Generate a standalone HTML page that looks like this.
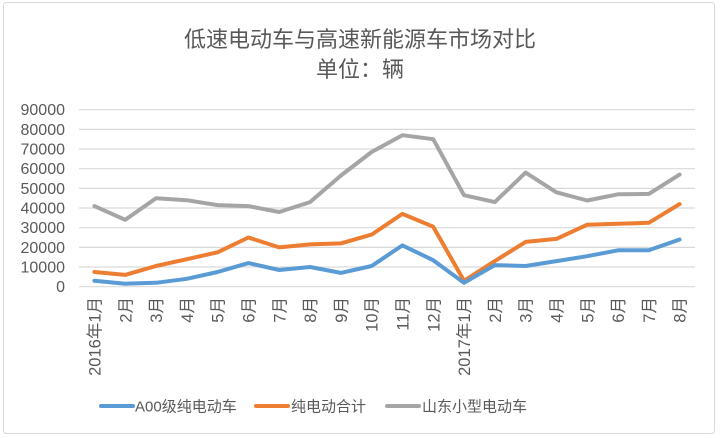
<!DOCTYPE html>
<html><head><meta charset="utf-8"><style>
html,body{margin:0;padding:0;background:#fff;}
svg{display:block;font-family:"Liberation Sans","Noto Sans CJK SC",sans-serif;}
</style></head><body>
<svg width="720" height="438" viewBox="0 0 720 438" xmlns="http://www.w3.org/2000/svg">
<rect x="3.5" y="2.5" width="711" height="431" rx="3" fill="#fff" stroke="#d9d9d9" stroke-width="1"/>
<g fill="#595959" text-anchor="middle" font-size="22">
<text x="360" y="47">低速电动车与高速新能源车市场对比</text>
<text x="360" y="77">单位：辆</text>
</g>
<g stroke="#d9d9d9" stroke-width="1.2">
<line x1="79" x2="695" y1="286.7" y2="286.7"/>
<line x1="79" x2="695" y1="267.0" y2="267.0"/>
<line x1="79" x2="695" y1="247.4" y2="247.4"/>
<line x1="79" x2="695" y1="227.7" y2="227.7"/>
<line x1="79" x2="695" y1="208.0" y2="208.0"/>
<line x1="79" x2="695" y1="188.4" y2="188.4"/>
<line x1="79" x2="695" y1="168.7" y2="168.7"/>
<line x1="79" x2="695" y1="149.0" y2="149.0"/>
<line x1="79" x2="695" y1="129.4" y2="129.4"/>
<line x1="79" x2="695" y1="109.7" y2="109.7"/>
</g>
<g fill="#595959" font-size="16" text-anchor="end">
<text x="65" y="292">0</text>
<text x="65" y="272.5">10000</text>
<text x="65" y="253">20000</text>
<text x="65" y="233">30000</text>
<text x="65" y="213.5">40000</text>
<text x="65" y="194">50000</text>
<text x="65" y="174">60000</text>
<text x="65" y="154.5">70000</text>
<text x="65" y="135">80000</text>
<text x="65" y="115">90000</text>
</g>
<g fill="#595959" font-size="16.5" text-anchor="end">
<text transform="translate(100.5,297) rotate(-90)">2016年1月</text>
<text transform="translate(131.3,297) rotate(-90)">2月</text>
<text transform="translate(162.1,297) rotate(-90)">3月</text>
<text transform="translate(192.9,297) rotate(-90)">4月</text>
<text transform="translate(223.7,297) rotate(-90)">5月</text>
<text transform="translate(254.5,297) rotate(-90)">6月</text>
<text transform="translate(285.3,297) rotate(-90)">7月</text>
<text transform="translate(316.1,297) rotate(-90)">8月</text>
<text transform="translate(346.9,297) rotate(-90)">9月</text>
<text transform="translate(377.7,297) rotate(-90)">10月</text>
<text transform="translate(408.5,297) rotate(-90)">11月</text>
<text transform="translate(439.3,297) rotate(-90)">12月</text>
<text transform="translate(470.1,297) rotate(-90)">2017年1月</text>
<text transform="translate(500.9,297) rotate(-90)">2月</text>
<text transform="translate(531.7,297) rotate(-90)">3月</text>
<text transform="translate(562.5,297) rotate(-90)">4月</text>
<text transform="translate(593.3,297) rotate(-90)">5月</text>
<text transform="translate(624.1,297) rotate(-90)">6月</text>
<text transform="translate(654.9,297) rotate(-90)">7月</text>
<text transform="translate(685.7,297) rotate(-90)">8月</text>
</g>
<g fill="none" stroke-width="4" stroke-linejoin="round" stroke-linecap="round">
<polyline stroke="#a5a5a5" points="94.4,206.1 125.2,219.8 156,198.2 186.8,200.2 217.6,205.1 248.4,206.1 279.2,212 310,202.1 340.8,175.6 371.6,152 402.4,135.2 433.2,139.2 464,195.2 494.8,202.1 525.6,172.6 556.4,192.3 587.2,200.5 618,194.3 648.8,193.9 679.6,174.6"/>
<polyline stroke="#ed7d31" points="94.4,272 125.2,274.9 156,266 186.8,259.2 217.6,252.3 248.4,237.5 279.2,247.4 310,244.4 340.8,243.4 371.6,234.6 402.4,213.9 433.2,226.7 464,280.8 494.8,261.1 525.6,241.9 556.4,238.9 587.2,224.7 618,223.8 648.8,222.8 679.6,204.1"/>
<polyline stroke="#5b9bd5" points="94.4,280.8 125.2,283.7 156,282.8 186.8,278.8 217.6,272 248.4,263.1 279.2,270 310,267 340.8,272.9 371.6,266 402.4,245.4 433.2,260.2 464,282.8 494.8,265.1 525.6,266 556.4,261.1 587.2,256.2 618,250.3 648.8,250.3 679.6,239.5"/>
</g>
<g stroke-width="4" stroke-linecap="round">
<line x1="101" x2="133" y1="406" y2="406" stroke="#5b9bd5"/>
<line x1="256" x2="288" y1="406" y2="406" stroke="#ed7d31"/>
<line x1="387" x2="419" y1="406" y2="406" stroke="#a5a5a5"/>
</g>
<g fill="#595959" font-size="15">
<text x="135" y="411.5">A00级纯电动车</text>
<text x="291" y="411.5">纯电动合计</text>
<text x="422" y="411.5">山东小型电动车</text>
</g>
</svg>
</body></html>
